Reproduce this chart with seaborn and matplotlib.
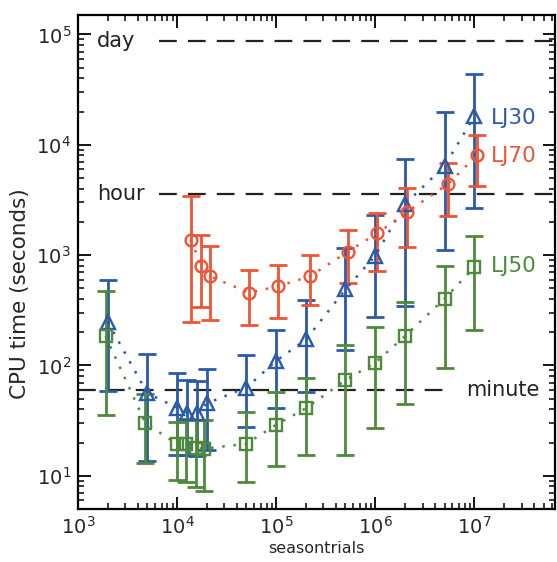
import numpy as np
import pandas as pd
import matplotlib
matplotlib.use("Agg")
import matplotlib.pyplot as plt
import seaborn as sns
from matplotlib.ticker import LogLocator, NullFormatter

sns.set_theme(style="ticks")
plt.rcParams['font.family'] = ['DejaVu Sans']

# ---- data ----
lj30_x = [2e3, 5e3, 1e4, 1.25e4, 1.6e4, 2e4, 5e4, 1e5, 2e5, 5e5, 1e6, 2e6, 5e6, 1e7]
lj30_y = [248, 56, 41.5, 37.4, 36.9, 45.4, 63, 110, 172, 489, 990, 2900, 6430, 18150]
lj30_lo = [59, 13.5, 15.3, 15.3, 15.1, 17.2, 27.4, 40.9, 58, 137, 275, 346, 1122, 2700]
lj30_hi = [589, 128, 85, 73.6, 72, 92.6, 124, 208, 388, 1153, 2320, 7500, 19900, 43900]

lj70_x = [1.37e4, 1.76e4, 2.14e4, 5.3e4, 1.05e5, 2.2e5, 5.3e5, 1.05e6, 2.1e6, 5.4e6, 1.07e7]
lj70_y = [1380, 803, 644, 456, 522, 644, 1077, 1580, 2470, 4400, 8080]
lj70_lo = [248, 336, 256, 231, 271, 353, 561, 720, 1193, 2275, 4240]
lj70_hi = [3400, 1520, 1220, 740, 821, 1005, 1700, 2420, 4050, 6890, 12330]

lj50_x = [1.9e3, 4.8e3, 1e4, 1.22e4, 1.55e4, 1.85e4, 5e4, 1e5, 2e5, 5e5, 1e6, 2e6, 5e6, 1e7]
lj50_y = [185, 29.9, 19.4, 19.5, 17.8, 17.6, 19.5, 29, 41, 73.6, 106, 185, 403, 778]
lj50_lo = [35.6, 13, 9.2, 8.7, 7.9, 7.3, 8.7, 12.2, 15.3, 15.3, 27, 44.8, 95, 208]
lj50_hi = [469, 55, 31, 33, 32, 32, 38, 58, 77, 152, 223, 376, 803, 1500]

series_names = ["LJ30", "LJ70", "LJ50"]
ref_names = ["day", "hour", "minute"]
ref_values = [86400, 3600, 60]

# ---- style ----
colors = {"LJ30": "#2b5aa8", "LJ70": "#ec5535", "LJ50": "#4d8a3c"}
markers = {"LJ30": "^", "LJ70": "o", "LJ50": "s"}
msizes = {"LJ30": 9.5, "LJ70": 8.5, "LJ50": 8}

frames = []
for name, xs, ys, lo, hi in [("LJ30", lj30_x, lj30_y, lj30_lo, lj30_hi),
                             ("LJ70", lj70_x, lj70_y, lj70_lo, lj70_hi),
                             ("LJ50", lj50_x, lj50_y, lj50_lo, lj50_hi)]:
    frames.append(pd.DataFrame({"trials": xs, "cpu": ys, "lo": lo, "hi": hi, "system": name}))
df = pd.concat(frames, ignore_index=True)

fig = plt.figure(figsize=(5.57, 5.62), dpi=100)
ax = fig.add_axes([0.140, 0.0943, 0.8564, 0.879])
ax.set_xscale("log")
ax.set_yscale("log")

# reference lines
line_kw = dict(color="#222222", lw=1.6, dashes=(8, 5), zorder=1)
ax.plot([6.5e3, 6.5e7], [ref_values[0]] * 2, **line_kw)
ax.plot([6.5e3, 6.5e7], [ref_values[1]] * 2, **line_kw)
ax.plot([1e3, 4.9e6], [ref_values[2]] * 2, **line_kw)
ax.text(1.55e3, ref_values[0], ref_names[0], fontsize=15, va="center", ha="left", color="#222222")
ax.text(1.55e3, ref_values[1], ref_names[1], fontsize=15, va="center", ha="left", color="#222222")
ax.text(8.2e6, ref_values[2], ref_names[2], fontsize=15, va="center", ha="left", color="#222222")

for name in series_names:
    sub = df[df.system == name]
    c = colors[name]
    ax.errorbar(sub.trials, sub.cpu,
                yerr=[sub.cpu - sub.lo, sub.hi - sub.cpu],
                fmt="none", ecolor=c, elinewidth=2, capsize=6.5, capthick=2, zorder=2)
    sns.lineplot(data=sub, x="trials", y="cpu", ax=ax, color=c, lw=1.8,
                 linestyle=(0, (1, 3.5)), zorder=3, legend=False, errorbar=None, sort=False)
    ax.plot(sub.trials, sub.cpu, ls="none", marker=markers[name], ms=msizes[name],
            mfc="none", mec=c, mew=1.7, zorder=4)

ax.text(1.45e7, 17500, "LJ30", color=colors["LJ30"], fontsize=15.5, va="center", ha="left")
ax.text(1.45e7, 7900, "LJ70", color=colors["LJ70"], fontsize=15.5, va="center", ha="left")
ax.text(1.45e7, 790, "LJ50", color=colors["LJ50"], fontsize=15.5, va="center", ha="left")

ax.set_xlim(1e3, 6.5e7)
ax.set_ylim(5, 1.5e5)
ax.set_xlabel("seasontrials", fontsize=11.5, labelpad=2)
ax.set_ylabel("CPU time (seconds)", fontsize=15.5)
ax.yaxis.set_label_coords(-0.1, 0.435)

ax.xaxis.set_major_locator(LogLocator(base=10, numticks=20))
ax.xaxis.set_minor_locator(LogLocator(base=10, subs=np.arange(2, 10), numticks=20))
ax.yaxis.set_major_locator(LogLocator(base=10, numticks=20))
ax.yaxis.set_minor_locator(LogLocator(base=10, subs=np.arange(2, 10), numticks=20))
ax.xaxis.set_minor_formatter(NullFormatter())
ax.yaxis.set_minor_formatter(NullFormatter())
ax.tick_params(which="both", direction="in", top=True, right=True, color="black")
ax.tick_params(which="major", length=9, width=1.3, labelsize=14, pad=5)
ax.tick_params(which="minor", length=4.5, width=1.1)
for sp in ax.spines.values():
    sp.set_linewidth(1.6)
    sp.set_color("black")

fig.savefig("out.png", dpi=100)
